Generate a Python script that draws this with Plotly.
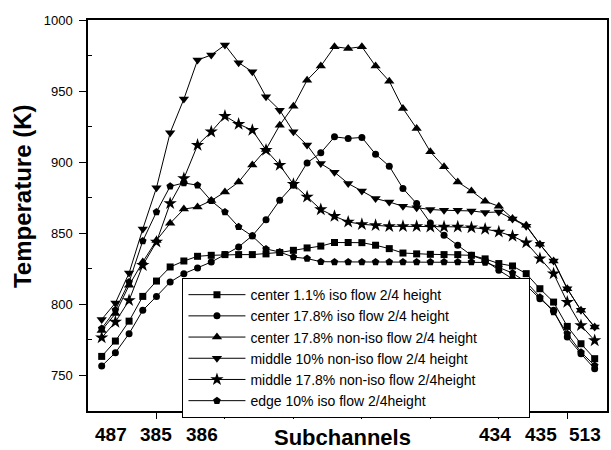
import plotly.graph_objects as go

idx = list(range(1, 38))

center_1_1_iso = [763.4, 774.2, 788.2, 805.6, 816.4, 826.3, 830.5, 833.8, 834.5, 835.0,
                  835.0, 835.0, 835.5, 836.5, 838.0, 839.7, 841.0, 843.5, 843.5, 843.4,
                  841.6, 839.2, 836.1, 835.5, 835.2, 835.0, 835.0, 834.5, 832.0, 828.7,
                  827.0, 821.6, 811.0, 801.6, 784.5, 772.3, 761.8]
center_17_8_iso = [756.6, 766.0, 779.4, 795.8, 805.6, 815.7, 821.6, 825.6, 829.8, 835.0,
                   840.4, 848.3, 859.5, 873.2, 883.8, 899.5, 906.6, 917.8, 916.7, 917.4,
                   905.6, 897.2, 881.5, 870.9, 857.3, 848.6, 841.6, 834.5, 831.0, 824.0,
                   818.0, 813.4, 804.0, 795.8, 777.0, 765.3, 754.7]
center_17_8_noniso = [781.7, 793.5, 813.4, 829.8, 845.0, 857.0, 867.0, 868.5, 873.0, 879.0,
                      886.0, 898.0, 909.0, 926.0, 939.4, 957.7, 967.6, 981.2, 980.0, 981.2,
                      967.6, 957.0, 937.8, 923.7, 907.3, 896.7, 886.1, 879.8, 872.5, 869.0,
                      860.4, 855.6, 842.3, 830.5, 811.0, 795.8, 784.0]
middle_10_noniso = [789.4, 801.0, 822.0, 853.0, 882.0, 920.7, 944.4, 971.8, 975.4, 982.4,
                    970.0, 963.6, 946.0, 936.6, 921.4, 912.0, 899.0, 893.0, 885.0, 879.8,
                    874.4, 872.0, 869.0, 868.0, 866.7, 866.2, 866.2, 865.7, 864.6, 865.0,
                    860.0, 855.0, 842.3, 830.5, 811.0, 795.8, 784.0]
middle_17_8_noniso = [776.6, 787.6, 802.8, 827.5, 843.9, 871.0, 888.5, 912.0, 921.4, 932.4,
                      926.8, 922.5, 908.5, 897.9, 884.5, 875.6, 866.7, 862.0, 858.0, 856.3,
                      855.6, 854.9, 854.9, 854.9, 854.5, 854.5, 854.5, 854.0, 853.0, 851.0,
                      848.0, 843.4, 832.2, 821.6, 801.6, 785.2, 774.6]
edge_10_iso = [783.0, 796.0, 815.7, 844.6, 865.0, 883.0, 885.4, 883.8, 872.8, 865.0,
               854.5, 848.0, 839.0, 836.8, 833.3, 832.2, 830.0, 829.8, 829.8, 829.8,
               829.8, 829.8, 829.8, 829.8, 829.8, 829.8, 829.8, 829.8, 829.5, 826.0,
               822.0, 815.7, 805.0, 794.6, 779.4, 766.4, 757.0]

series_names = ["center 1.1% iso flow 2/4 height",
                "center 17.8% iso flow 2/4 height",
                "center 17.8% non-iso flow 2/4 height",
                "middle 10% non-iso flow 2/4 height",
                "middle 17.8% non-iso flow 2/4height",
                "edge 10% iso flow 2/4height"]
series_values = [center_1_1_iso, center_17_8_iso, center_17_8_noniso,
                 middle_10_noniso, middle_17_8_noniso, edge_10_iso]
symbols = ["square", "circle", "triangle-up", "triangle-down", "star", "pentagon"]
sizes = [7, 7, 9, 9, 10, 8]

label_pos = [1.67, 5.0, 8.3, 29.75, 33.1, 36.3]
label_text = ["487", "385", "386", "434", "435", "513"]

FONT = "Liberation Sans, Arial, sans-serif"
PAD = "\u00a0" * 12  # widens the legend box like the reference frame

fig = go.Figure()
for k, (name, vals, sym, sz) in enumerate(zip(series_names, series_values, symbols, sizes)):
    fig.add_trace(go.Scatter(
        x=idx, y=vals, name=name + (PAD if k == 2 else ""), mode="lines+markers",
        line=dict(color="black", width=1),
        marker=dict(symbol=sym, size=sz, color="black"),
    ))

annotations = []
for p, t in zip(label_pos, label_text):
    annotations.append(dict(x=p, y=0, xref="x", yref="paper", yanchor="top",
                            yshift=-11, text=t, showarrow=False,
                            font=dict(family=FONT, size=19, color="black", weight="bold")))
annotations.append(dict(x=0.49, y=0, xref="paper", yref="paper", yanchor="top",
                        yshift=-12, text="Subchannels", showarrow=False,
                        font=dict(family=FONT, size=22, color="black", weight="bold")))
annotations.append(dict(x=-0.125, y=0.55, xref="paper", yref="paper", textangle=-90,
                        xanchor="center", yanchor="middle",
                        text="Temperature (K)", showarrow=False,
                        font=dict(family=FONT, size=24, color="black", weight="bold")))

fig.update_layout(
    width=611, height=450,
    margin=dict(l=88, r=2, t=20, b=39),
    paper_bgcolor="white", plot_bgcolor="white",
    font=dict(family=FONT, color="black"),
    showlegend=True,
    legend=dict(x=0.182, y=0.34, xanchor="left", yanchor="top",
                bgcolor="white", bordercolor="black", borderwidth=1,
                font=dict(family=FONT, size=14, color="black"),
                itemwidth=57, tracegroupgap=0),
    annotations=annotations,
    xaxis=dict(range=[0, 37.9], showgrid=False, zeroline=False,
               showline=True, linecolor="black", linewidth=1.5, mirror=True,
               tickvals=[5, 10, 15, 20, 25, 30, 35], ticks="outside", ticklen=6,
               tickcolor="black", showticklabels=False),
    yaxis=dict(range=[725, 1000], showgrid=False, zeroline=False,
               showline=True, linecolor="black", linewidth=1.5, mirror=True,
               tickvals=[750, 800, 850, 900, 950, 1000], ticks="outside", ticklen=7,
               tickcolor="black", tickfont=dict(family=FONT, size=13, color="black"),
               ticklabelstandoff=4,
               minor=dict(tickvals=[775, 825, 875, 925, 975], ticks="inside",
                          ticklen=4, tickcolor="black")),
)

fig.write_html("out.html")
